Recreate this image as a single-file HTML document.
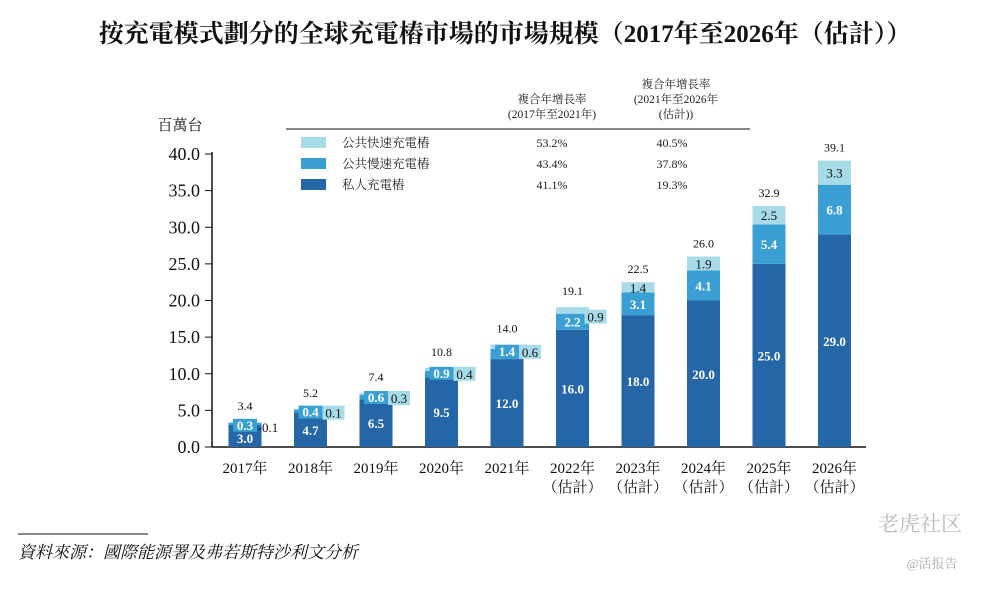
<!DOCTYPE html>
<html><head><meta charset="utf-8">
<style>
body{margin:0;background:#fff;width:1000px;height:586px;overflow:hidden;font-family:"Liberation Serif","Noto Serif CJK SC",serif;}
svg text{font-family:"Liberation Serif","Noto Serif CJK SC",serif;}
</style></head><body>
<svg id="chart" width="1000" height="586">
<text x="505" y="42" text-anchor="middle" font-size="25" font-weight="bold" fill="#111">按充電模式劃分的全球充電樁市場的市場規模（2017年至2026年（估計））</text>
<text x="180" y="130" text-anchor="middle" font-size="15" fill="#111">百萬台</text>
<g font-size="11.5" fill="#222">
<text x="552" y="103" text-anchor="middle">複合年增長率</text>
<text x="552" y="118" text-anchor="middle">(2017年至2021年)</text>
<text x="676" y="88" text-anchor="middle">複合年增長率</text>
<text x="676" y="103" text-anchor="middle">(2021年至2026年</text>
<text x="676" y="118" text-anchor="middle">(估計))</text>
<line x1="286" y1="129" x2="750" y2="129" stroke="#111" stroke-width="1"/>
<rect x="301" y="137" width="25" height="11" fill="#a8dbe8"/>
<rect x="301" y="158" width="25" height="11" fill="#3a9fd3"/>
<rect x="301" y="179" width="25" height="11" fill="#2566a6"/>
<text x="342" y="147" font-size="12.5">公共快速充電樁</text>
<text x="342" y="168" font-size="12.5">公共慢速充電樁</text>
<text x="342" y="189" font-size="12.5">私人充電樁</text>
<text x="552" y="147" text-anchor="middle" font-size="12">53.2%</text>
<text x="552" y="168" text-anchor="middle" font-size="12">43.4%</text>
<text x="552" y="189" text-anchor="middle" font-size="12">41.1%</text>
<text x="672" y="147" text-anchor="middle" font-size="12">40.5%</text>
<text x="672" y="168" text-anchor="middle" font-size="12">37.8%</text>
<text x="672" y="189" text-anchor="middle" font-size="12">19.3%</text>
</g>
<g id="plot"></g>
<line x1="18" y1="534" x2="148" y2="534" stroke="#111" stroke-width="1"/>
<text x="18" y="558" font-size="17" font-style="italic" fill="#111">資料來源：國際能源署及弗若斯特沙利文分析</text>
<text x="878" y="531" font-size="21" fill="#bbb" font-family="Liberation Sans, Noto Sans CJK SC, sans-serif">老虎社区</text>
<text x="932" y="568" font-size="13" fill="#aaa" text-anchor="middle" font-family="Liberation Sans, Noto Sans CJK SC, sans-serif">@活报告</text>
</svg>
<script>
const categories=["2017年","2018年","2019年","2020年","2021年","2022年","2023年","2024年","2025年","2026年"];
const estimated=[false,false,false,false,false,true,true,true,true,true];
const privateVals=[3.0,4.7,6.5,9.5,12.0,16.0,18.0,20.0,25.0,29.0];
const slowVals=[0.3,0.4,0.6,0.9,1.4,2.2,3.1,4.1,5.4,6.8];
const fastVals=[0.1,0.1,0.3,0.4,0.6,0.9,1.4,1.9,2.5,3.3];
const totals=[3.4,5.2,7.4,10.8,14.0,19.1,22.5,26.0,32.9,39.1];
const yTicks=[0,5,10,15,20,25,30,35,40];
const NS="http://www.w3.org/2000/svg";
const g=document.getElementById('plot');
const y0=447,yTop=154,yMax=40;
const y=v=>y0-(v/yMax)*(y0-yTop);
const x=i=>245+i*65.5;
const bw=33;
function el(t,a,p){const e=document.createElementNS(NS,t);for(const k in a)e.setAttribute(k,a[k]);(p||g).appendChild(e);return e;}
function txt(s,a){const e=el('text',a);e.textContent=s;return e;}
const ax=el('line',{x1:212,y1:y0,x2:866,y2:y0,stroke:'#111','stroke-width':1.5});


const ay=el('line',{x1:212,y1:yTop-2,x2:212,y2:y0,stroke:'#111','stroke-width':1.5});


yTicks.forEach(v=>{
  const l=el('line',{x1:205,y1:y(v),x2:212,y2:y(v),stroke:'#111','stroke-width':1});
  
  
  const t=txt(v.toFixed(1),{x:200,y:y(v)+6,'text-anchor':'end','font-size':18,fill:'#111'});
  
  
});
categories.forEach((c,i)=>{
  const cx=x(i),L=cx-bw/2;
  const p=privateVals[i],s=slowVals[i],f=fastVals[i];
  const r1=el('rect',{x:L,y:y(p),width:bw,height:y(0)-y(p),fill:'#2566a6'});
  
  
  const r2=el('rect',{x:L,y:y(p+s),width:bw,height:y(p)-y(p+s),fill:'#3a9fd3'});
  
  
  const r3=el('rect',{x:L,y:y(p+s+f),width:bw,height:y(p+s)-y(p+s+f),fill:'#a8dbe8'});
  
  
  const hs=y(p)-y(p+s),hf=y(p+s)-y(p+s+f);
  const tp=txt(p.toFixed(1),{x:cx,y:Math.max((y(p)+y0)/2+5,y(p)+18),'text-anchor':'middle','font-size':13,'font-weight':'bold',fill:'#fff'});
  
  
  if(hs>=14){
    const ts=txt(s.toFixed(1),{x:cx,y:(y(p)+y(p+s))/2+5,'text-anchor':'middle','font-size':13,'font-weight':'bold',fill:'#fff'});
    
    
  }else{
    const by=y(p+s)-4;
    el('rect',{x:cx-12,y:by,width:24,height:13,fill:'#3a9fd3'});
    const ts=txt(s.toFixed(1),{x:cx,y:by+11,'text-anchor':'middle','font-size':13,'font-weight':'bold',fill:'#fff'});
    
    
  }
  if(hf>=9){
    const tf=txt(f.toFixed(1),{x:cx,y:(y(p+s)+y(p+s+f))/2+5,'text-anchor':'middle','font-size':13,fill:'#111'});
    
    
  }else{
    const by=y(p+s)-(i===0?3:4);
    if(i>0)el('rect',{x:cx+12,y:by,width:22,height:14,fill:'#a8dbe8'});
    const tf=txt((i===0?'-':'')+f.toFixed(1),{x:cx+23,y:by+12,'text-anchor':'middle','font-size':13,fill:'#111'});
    
    
  }
  const tt=txt(totals[i].toFixed(1),{x:cx,y:y(totals[i])-(hf<9?12:9),'text-anchor':'middle','font-size':12,fill:'#111'});
  
  
  const xl=txt(c,{x:cx,y:473,'text-anchor':'middle','font-size':15,fill:'#111'});
  
  
  if(estimated[i]){
    const xe=txt('（估計）',{x:cx,y:492,'text-anchor':'middle','font-size':15,fill:'#111'});
    
    
  }
});
</script>
</body></html>
